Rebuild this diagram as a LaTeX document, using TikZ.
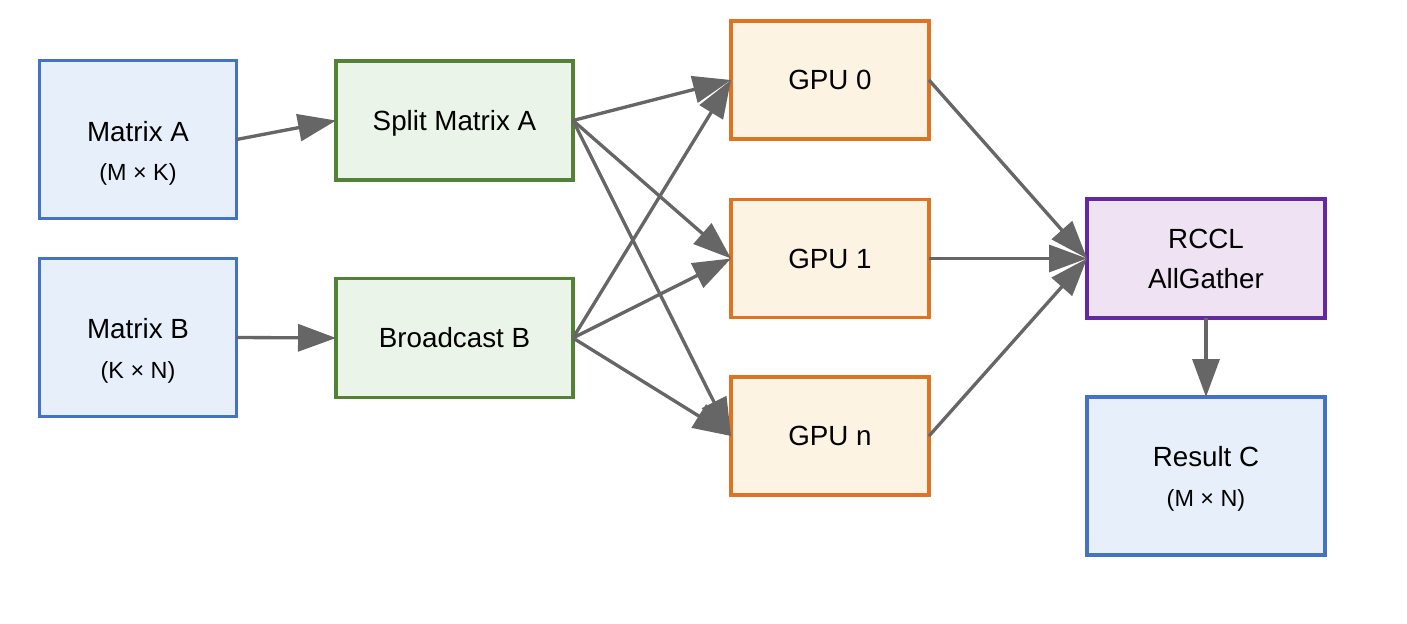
\documentclass[tikz,border=0pt]{standalone}
\usepackage{fontspec}
\setmainfont{Liberation Sans}
\usetikzlibrary{arrows.meta}

\definecolor{blueline}{HTML}{4472C4}
\definecolor{bluefill}{HTML}{E7F0FA}
\definecolor{greenline}{HTML}{538135}
\definecolor{greenfill}{HTML}{EBF4E8}
\definecolor{orangeline}{HTML}{DD7423}
\definecolor{orangefill}{HTML}{FDF3E2}
\definecolor{purpleline}{HTML}{6429A0}
\definecolor{purplefill}{HTML}{EFE3F3}
\definecolor{flowgray}{HTML}{666666}

\begin{document}
\begin{tikzpicture}[x=0.02cm,y=-0.02cm,
  box/.style={draw,line width=1.9pt,outer sep=0pt,font=\fontsize{15.8}{18}\selectfont,text height=11.3pt,text depth=0pt},
  inbox/.style={box,draw=blueline,fill=bluefill,minimum width=3.94cm,minimum height=3.15cm},
  prepbox/.style={box,draw=greenline,fill=greenfill,minimum width=4.74cm,minimum height=2.38cm},
  gpubox/.style={box,draw=orangeline,fill=orangefill,minimum width=3.96cm,minimum height=2.36cm},
  commbox/.style={box,draw=purpleline,fill=purplefill,minimum width=4.76cm,minimum height=2.38cm},
  outbox/.style={box,draw=blueline,fill=bluefill,minimum width=4.76cm,minimum height=3.16cm},
  maintxt/.style={font=\fontsize{15.8}{18}\selectfont,anchor=base,inner sep=0pt},
  subtxt/.style={font=\fontsize{13.3}{16}\selectfont,anchor=base,inner sep=0pt},
  flow/.style={color=flowgray,line width=1.9pt,-{Triangle[length=0.76cm,width=0.54cm]}}]
\useasboundingbox (0,0) rectangle (1407,624);

% inputs
\draw node[inbox] (matA) at (138,139.5) {};
\node[maintxt] (matAname) at (138,141.5) {Matrix A};
\node[subtxt] (matAdim) at (138,181) {(M × K)};
\draw node[inbox] (matB) at (138,337.5) {};
\node[maintxt] (matBname) at (138,338.5) {Matrix B};
\node[subtxt] (matBdim) at (138,379) {(K × N)};

% distribution
\draw node[prepbox] (split) at (454.5,120.5) {Split Matrix A};
\draw node[prepbox] (bcast) at (454.5,338) {Broadcast B};

% workers
\draw node[gpubox] (gpu0) at (830,80) {GPU 0};
\draw node[gpubox] (gpu1) at (830,258.5) {GPU 1};
\draw node[gpubox] (gpun) at (830,436) {GPU n};

% gather and result
\draw node[commbox] (rccl) at (1206,258.5) {};
\node[maintxt] (rcclname) at (1206,248.3) {RCCL};
\node[maintxt] (rcclop) at (1206,288.3) {AllGather};
\draw node[outbox] (resC) at (1206,476) {};
\node[maintxt] (resCname) at (1206,466.7) {Result C};
\node[subtxt] (resCdim) at (1206,506.7) {(M × N)};

\draw[flow] (matA.east) -- (split.west);
\draw[flow] (matB.east) -- (bcast.west);
\foreach \g in {gpu0,gpu1,gpun} {
  \draw[flow] (split.east) -- (\g.west);
  \draw[flow] (bcast.east) -- (\g.west);
  \draw[flow] (\g.east) -- (rccl.west);
}
\draw[flow] (rccl.south) -- (resC.north);
\end{tikzpicture}
\end{document}
